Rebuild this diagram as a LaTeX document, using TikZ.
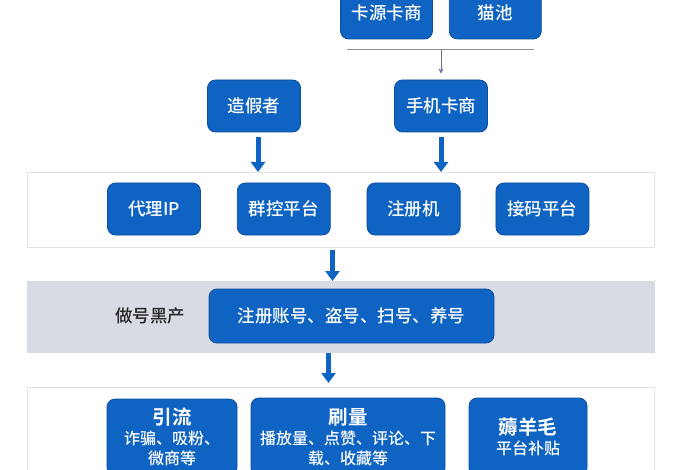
\documentclass[tikz,border=0pt]{standalone}
\usepackage{fontspec}
\setmainfont{Noto Sans CJK SC}[UprightFont={* Medium}, BoldFont={* Bold}]
\usepackage{xcolor}
\usetikzlibrary{positioning, arrows.meta}
\definecolor{boxblue}{HTML}{0F63C2}
\definecolor{boxedge}{HTML}{0B4F9E}
\definecolor{panelgray}{HTML}{D7DBE3}
\definecolor{paneledge}{HTML}{E1E3E7}
\definecolor{bargray}{HTML}{8C9099}
\definecolor{thinarrow}{HTML}{6B6E9C}

\begin{document}
\begin{tikzpicture}[x=1pt, y=-1pt, node distance=36pt,
    every node/.style={font=\fontsize{17.5}{20}\selectfont},
    bluebox/.style={rectangle, rounded corners=8pt, draw=boxedge, fill=boxblue, text=white, minimum width=93pt, minimum height=52pt, inner sep=2pt, line width=0.8pt},
    panel/.style={rectangle, draw=paneledge, line width=1pt, minimum width=627pt, anchor=north west},
    fatarrow/.style={-{Triangle[width=14pt,length=10pt]}, line width=5pt, draw=boxblue}]
        \clip (0,0) rectangle (700,470);
        \fill[white] (0,0) rectangle (700,470);
        % Panels
        \node[panel, fill=white, minimum height=75pt] (tools) at (27,172) {};
        \node[panel, fill=panelgray, draw=panelgray, minimum height=71pt] (accounts) at (27,281) {};
        \node[panel, fill=white, minimum height=100pt] (profit) at (27,387) {};
        % Suppliers
        \node[bluebox, minimum width=92pt] (cardsrc) at (386.5,13) {卡源卡商};
        \node[bluebox, minimum width=92pt, right=16pt of cardsrc] (catpool) {猫池};
        \coordinate (barl) at (347,50);
        \coordinate (barr) at (534,50);
        \coordinate (split) at (441,50);
        \node[bluebox] (faker) at (254,106) {造假者};
        \node[bluebox] (phonecard) at (441,106) {手机卡商};
        \draw[bargray, line width=1pt] (barl) -- (barr);
        \draw[-{Stealth[length=5pt,width=5pt]}, thinarrow, line width=0.8pt, shorten >=6pt] (split) -- (phonecard.north);
        % Tools
        \node[bluebox] (proxy) at (154,209) {代理IP};
        \node[bluebox, right=of proxy] (groupctl) {群控平台};
        \node[bluebox, right=of groupctl] (regtool) {注册机};
        \node[bluebox, right=35pt of regtool] (smsrecv) {接码平台};
        % Account farming
        \node[bluebox, minimum width=285pt, minimum height=54pt] (hub) at (351.5,316) {注册账号、盗号、扫号、养号};
        \node[left=20pt of hub, text=black!85] (blackind) {做号黑产};
        % Profit
        \node[bluebox, align=center, minimum width=130pt, minimum height=76pt, font=\fontsize{16}{20}\selectfont] (traffic) at (172,437) {{\bfseries\fontsize{19.5}{20}\selectfont 引流}\\诈骗、吸粉、\\微商等};
        \node[bluebox, align=center, minimum width=194pt, minimum height=78pt, font=\fontsize{16}{20}\selectfont] (boost) at (348,437) {{\bfseries\fontsize{19.5}{20}\selectfont 刷量}\\播放量、点赞、评论、下\\载、收藏等};
        \node[bluebox, align=center, minimum width=118pt, minimum height=78pt, font=\fontsize{16}{20}\selectfont] (wool) at (528,437) {{\bfseries\fontsize{19.5}{20}\selectfont 薅羊毛}\\平台补贴};
        % Arrows
        \draw[fatarrow] ([xshift=4pt,yshift=-5pt]faker.south) -- ([xshift=4pt]faker.south |- tools.north);
        \draw[fatarrow] ([yshift=-5pt]phonecard.south) -- (phonecard.south |- tools.north);
        \draw[fatarrow] ([xshift=-8.5pt,yshift=-2pt]tools.south) -- ([xshift=-8.5pt]tools.south |- accounts.north);
        \draw[fatarrow, shorten >=4pt] ([xshift=-12.5pt]accounts.south) -- ([xshift=-12.5pt]accounts.south |- profit.north);
    \end{tikzpicture}
\end{document}
